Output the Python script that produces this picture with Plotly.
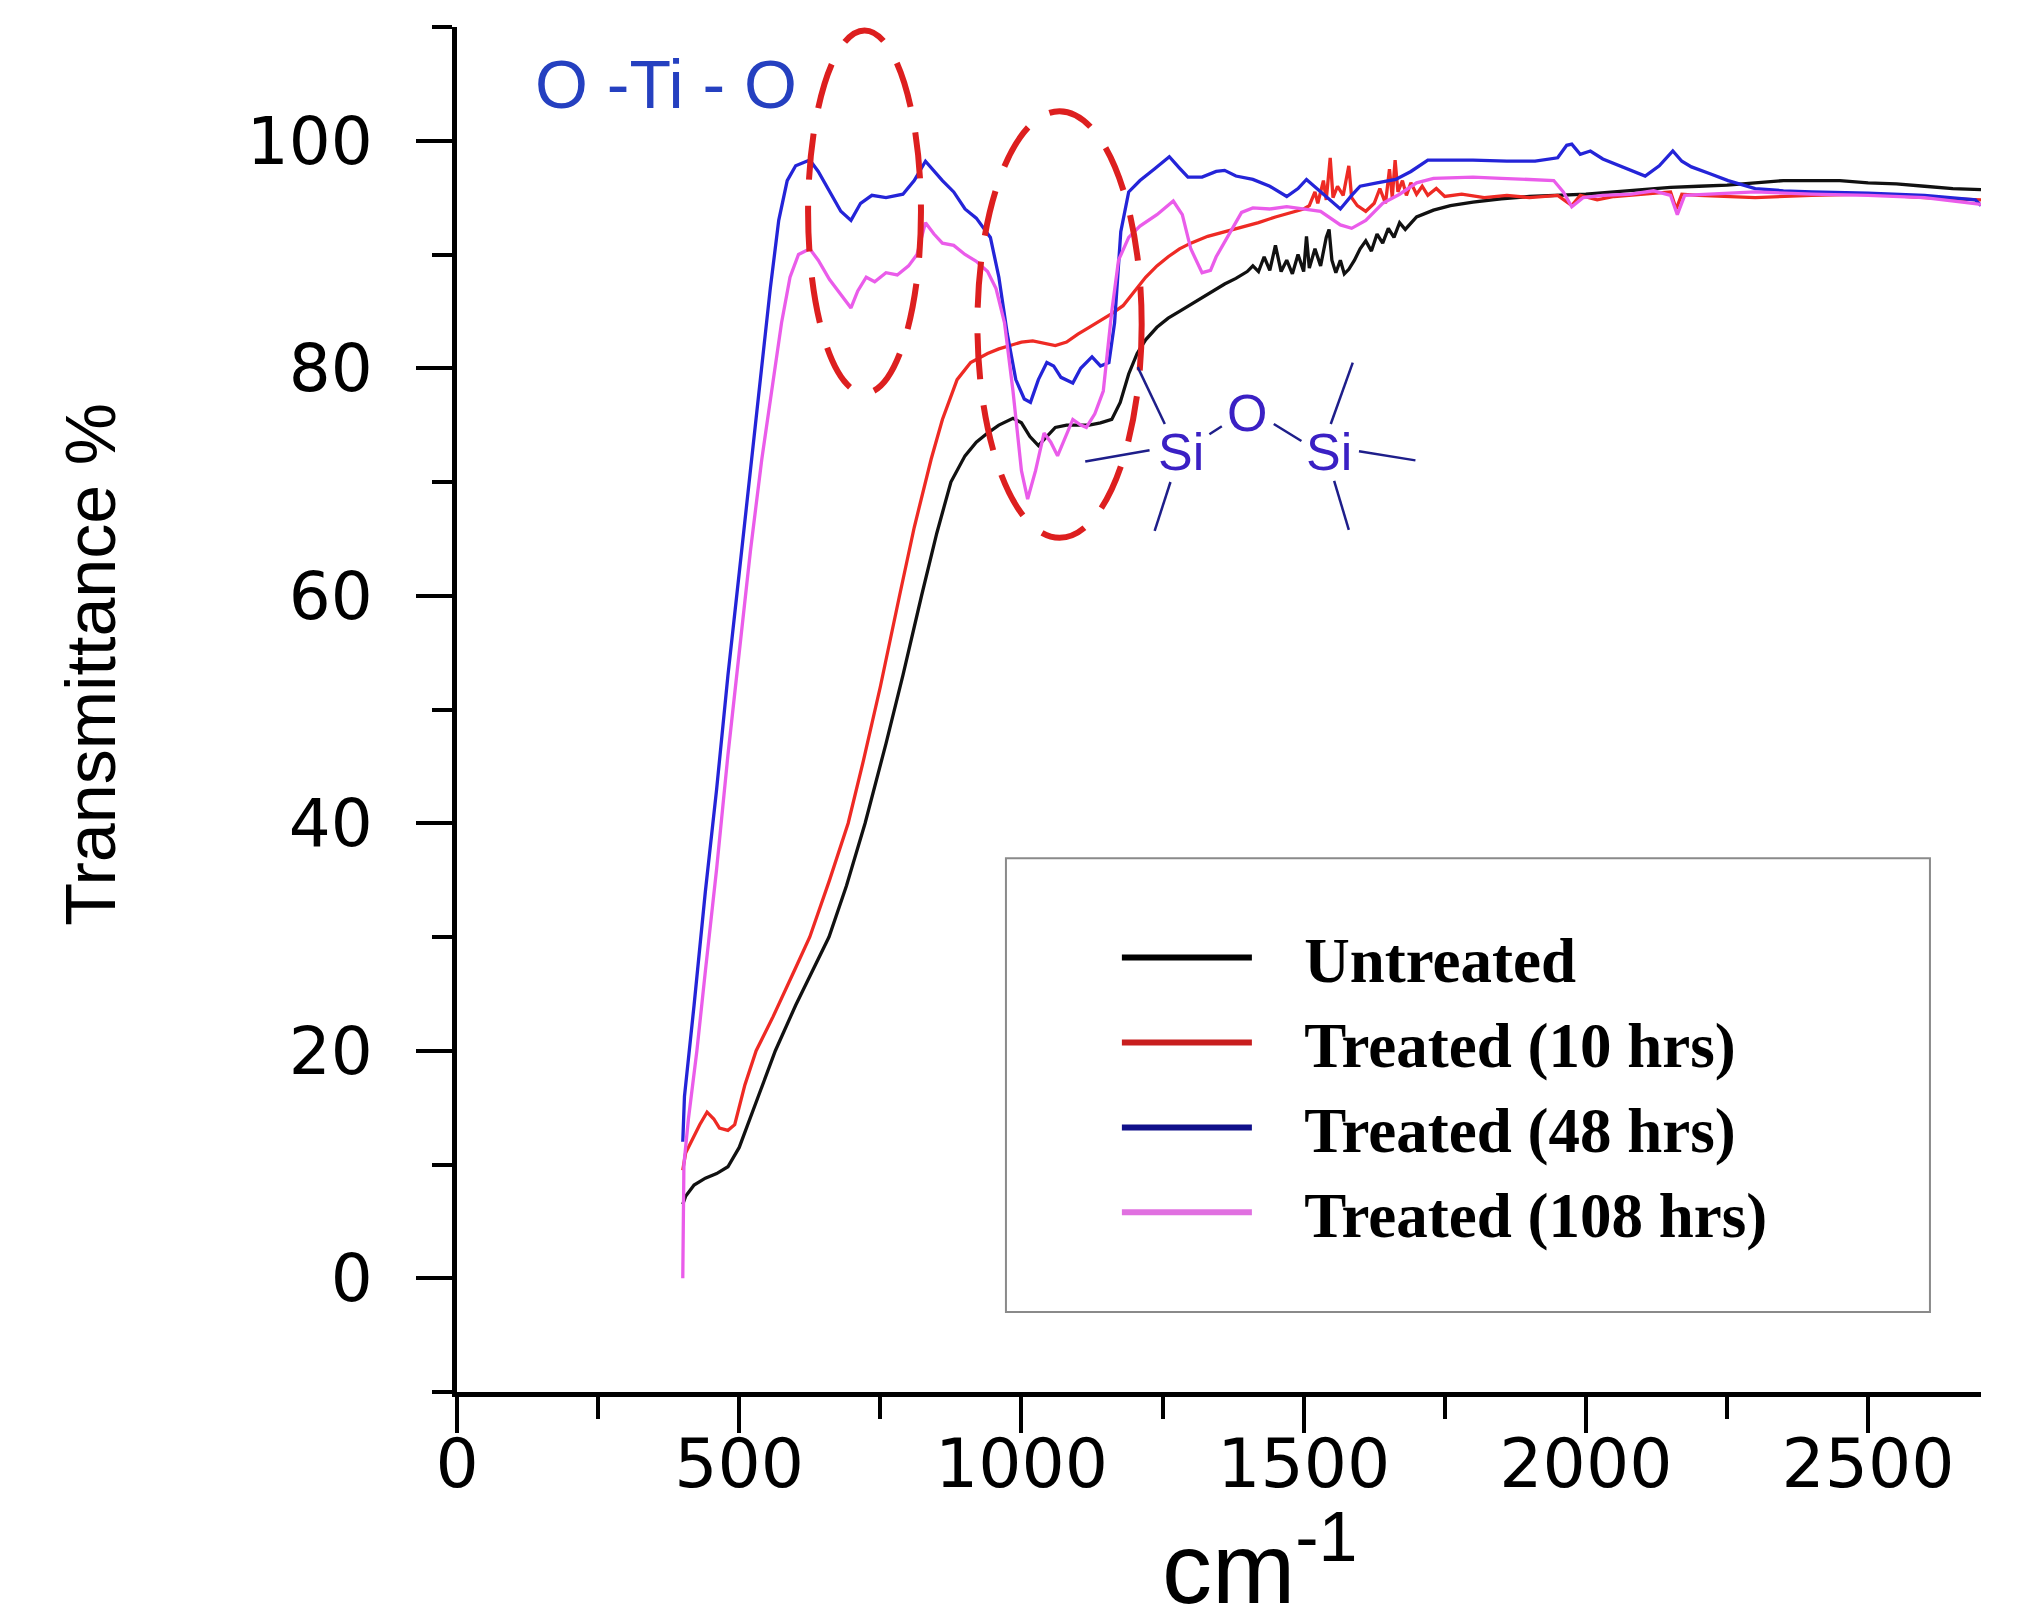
import plotly.graph_objs as go

# FTIR spectra, transmittance (%) vs wavenumber (cm-1)
untreated_x = [400, 405, 420, 440, 460, 480, 500, 530, 564, 600, 630, 659, 690, 723, 760, 790,
               823, 850, 875, 900, 920, 940, 960, 985, 1000,
               1015, 1030, 1045, 1060, 1080, 1100, 1120, 1140, 1160, 1175, 1190, 1205, 1220,
               1240, 1260, 1280, 1300, 1320, 1340, 1360, 1380, 1400, 1410, 1420, 1430, 1440,
               1450, 1460, 1470, 1480, 1490, 1500, 1505, 1510, 1520, 1530, 1540, 1545, 1550,
               1557, 1565, 1572, 1580, 1590, 1600, 1610, 1620, 1630, 1640, 1650, 1660, 1670,
               1680, 1700, 1730, 1760, 1800, 1850, 1900, 1950, 2000, 2050, 2100, 2150, 2200,
               2250, 2300, 2350, 2400, 2450, 2500, 2550, 2600, 2650, 2700]
untreated_y = [6.5, 7.2, 8.2, 8.8, 9.2, 9.8, 11.5, 15.5, 20, 24, 27, 30, 34.5, 40, 47, 53,
               60, 65.5, 70, 72.3, 73.5, 74.3, 75, 75.6, 75.2,
               74, 73.2, 74, 74.8, 75, 75, 75, 75.2, 75.5, 77, 79.5, 81.3, 82.5,
               83.6, 84.4, 85, 85.6, 86.2, 86.8, 87.4, 87.9, 88.5, 89, 88.5, 89.8, 88.6,
               90.8, 88.5, 89.5, 88.3, 90, 88.5, 91.6, 88.8, 90.5, 89, 91.5, 92.2, 89.5,
               88.4, 89.5, 88.3, 88.7, 89.5, 90.5, 91.2, 90.3, 91.8, 91, 92.3, 91.5, 92.8,
               92.2, 93.3, 93.9, 94.3, 94.6, 94.9, 95.1, 95.2, 95.3, 95.5, 95.7, 95.9, 96,
               96.1, 96.3, 96.5, 96.5, 96.5, 96.3, 96.2, 96, 95.8, 95.7]

treated10_x = [400, 405, 415, 430, 443, 455, 465, 480, 492, 500, 510, 530, 560, 600, 625, 660,
               693, 720, 750, 784, 810, 840, 860, 886, 910, 940, 960, 980, 1000, 1020, 1040,
               1060, 1080, 1100, 1120, 1140, 1160, 1180, 1200,
               1220, 1240, 1260, 1280, 1300, 1330, 1360, 1390, 1420, 1450, 1480, 1500, 1510,
               1520, 1525, 1535, 1540, 1547, 1552, 1560, 1570, 1580, 1585, 1595, 1610, 1625,
               1635, 1645, 1652, 1657, 1662, 1667, 1675, 1682, 1690, 1700, 1710, 1720, 1735,
               1750, 1780, 1820, 1860, 1900, 1950, 1975, 1990, 2020, 2050, 2100, 2150, 2160,
               2170, 2200, 2300, 2400, 2500, 2600, 2700]
treated10_y = [9.5, 11, 12, 13.5, 14.6, 14, 13.2, 13, 13.5, 15, 17, 20, 23, 27.3, 30, 35,
               40, 45.5, 52, 60, 66, 72, 75.5, 79, 80.5, 81.3, 81.7, 82, 82.3, 82.4, 82.2,
               82, 82.3, 83, 83.6, 84.2, 84.8, 85.5, 86.8,
               88, 89, 89.8, 90.5, 91, 91.6, 92, 92.4, 92.8, 93.3, 93.7, 94, 94.3,
               95.5, 94.5, 96.5, 94.8, 98.5, 95, 96, 95.2, 97.8, 95, 94.3, 93.8, 94.5,
               95.8, 94.5, 97.5, 95, 98.3, 95.5, 96.5, 95.2, 96.3, 95.3, 96, 95.2, 95.8,
               95.1, 95.3, 95, 95.2, 95, 95.2, 94.3, 95.2, 94.8, 95.1, 95.3, 95.5, 94,
               95.3, 95.2, 95, 95.2, 95.3, 95, 94.8]

treated48_x = [400, 403, 420, 440, 460, 480, 500, 520, 540, 555, 570, 585, 600, 625, 640, 660,
               680, 698, 715, 735, 760, 790, 810, 830, 845, 860, 880, 900, 920, 945, 960, 975,
               990, 1005, 1016, 1030, 1045, 1057, 1070, 1091, 1105, 1125, 1140, 1155, 1165, 1176,
               1190, 1210, 1235, 1262, 1280, 1295, 1320, 1345, 1360, 1380, 1410, 1440, 1470,
               1490, 1505, 1530, 1565, 1585, 1600, 1630, 1663, 1690, 1720, 1800, 1860, 1910,
               1950, 1966, 1975, 1990, 2008, 2030, 2056, 2080, 2105, 2130, 2154, 2170, 2187,
               2220, 2252, 2300, 2350, 2400, 2500, 2600, 2690, 2700]
treated48_y = [12, 16, 24, 34, 43, 53, 62, 71, 80, 87, 93, 96.5, 97.8, 98.3, 97.3, 95.5,
               93.8, 93, 94.5, 95.2, 95, 95.3, 96.5, 98.2, 97.3, 96.5, 95.5, 94, 93.2, 91.5, 88, 83,
               79, 77.3, 77, 79, 80.5, 80.2, 79.2, 78.7, 80, 81, 80.2, 80.5, 84, 92,
               95.5, 96.5, 97.5, 98.6, 97.6, 96.8, 96.8, 97.3, 97.4, 96.9, 96.6, 96, 95.1,
               95.8, 96.6, 95.5, 94, 95.2, 96, 96.3, 96.6, 97.3, 98.3, 98.3, 98.2, 98.2,
               98.5, 99.6, 99.7, 98.8, 99.1, 98.4, 97.9, 97.4, 96.9, 97.8, 99.1, 98.2, 97.7,
               97.1, 96.5, 95.8, 95.6, 95.5, 95.4, 95.2, 94.8, 94.3]

treated108_x = [400, 402, 410, 425, 440, 460, 480, 500, 520, 540, 560, 575, 590, 605, 625, 640,
                660, 680, 698, 710, 725, 740, 760, 780, 800, 815, 830, 845, 860, 880, 900, 920,
                940, 955, 970, 985, 1000, 1011, 1025, 1040, 1052, 1064, 1078, 1091, 1105, 1115,
                1130, 1145, 1160, 1172, 1190, 1210, 1240, 1269, 1285, 1300, 1320, 1335, 1345,
                1365, 1390, 1410, 1440, 1470, 1500, 1530, 1565, 1585, 1610, 1640, 1670, 1700,
                1730, 1800, 1850, 1900, 1943, 1960, 1975, 1995, 2030, 2080, 2120, 2150, 2162,
                2175, 2220, 2300, 2400, 2500, 2600, 2700]
treated108_y = [0, 10, 14, 20, 27, 36, 46, 55, 64, 72, 79, 84, 88, 90, 90.5, 89.5,
                87.8, 86.5, 85.3, 86.8, 88, 87.6, 88.4, 88.2, 89, 90, 92.8, 91.8, 91, 90.8, 90, 89.4,
                88.5, 87, 84, 78, 71, 68.5, 71, 74.3, 73.5, 72.3, 74, 75.5, 75, 74.8,
                76, 78, 85, 89.5, 91.5, 92.5, 93.5, 94.7, 93.5, 90.5, 88.4, 88.6, 89.8,
                91.5, 93.7, 94.1, 94, 94.2, 94, 93.8, 92.6, 92.3, 93, 94.5, 95.3, 96.3,
                96.7, 96.8, 96.7, 96.6, 96.5, 95.5, 94.2, 95, 95.2, 95.3, 95.6, 95.2, 93.5,
                95.2, 95.3, 95.5, 95.3, 95.2, 95, 94.4]

series_names = ['Untreated', 'Treated (10 hrs)', 'Treated (48 hrs)', 'Treated (108 hrs)']
line_colors = ['#111111', '#ee2a24', '#2424d8', '#ea5cea']
legend_colors = ['#000000', '#c81e1e', '#10108a', '#e070e0']

xs = [untreated_x, treated10_x, treated48_x, treated108_x]
ys = [untreated_y, treated10_y, treated48_y, treated108_y]

data = []
for x, y, color, name in zip(xs, ys, line_colors, series_names):
    data.append(go.Scatter(x=x, y=y, mode='lines', name=name,
                           line=dict(color=color, width=3.3),
                           legendgroup=name, showlegend=False))
# thicker swatches for the legend, like in the original figure
# (no-break spaces push the label away from its swatch)
for color, name in zip(legend_colors, series_names):
    data.append(go.Scatter(x=[None], y=[None], mode='lines', name='\u00a0\u00a0\u00a0' + name,
                           line=dict(color=color, width=6),
                           legendgroup=name, showlegend=True))

layout = go.Layout(
    width=2021,
    height=1623,
    plot_bgcolor='white',
    paper_bgcolor='white',
    margin=dict(l=449, r=48, t=19, b=239),
    xaxis=dict(range=[0, 2700], dtick=500, showline=True, linecolor='black', linewidth=5,
               showgrid=False, zeroline=False, ticks='outside', ticklen=36, tickwidth=4,
               tickcolor='black', ticklabelstandoff=-28, automargin=False,
               minor=dict(ticks='outside', ticklen=22, tickwidth=4, dtick=250, tickcolor='black'),
               tickfont=dict(family='DejaVu Sans', size=68, color='black')),
    yaxis=dict(range=[-10, 110], dtick=20, tick0=0, showline=True, linecolor='black', linewidth=5,
               showgrid=False, zeroline=False, ticks='outside', ticklen=36, tickwidth=4,
               tickcolor='black', ticklabelstandoff=30, automargin=False,
               minor=dict(ticks='outside', ticklen=20, tickwidth=4, dtick=10, tickcolor='black'),
               tickfont=dict(family='DejaVu Sans', size=66, color='black')),
    legend=dict(x=0.433, y=0.353, xanchor='left', yanchor='top', bgcolor='rgba(0,0,0,0)',
                borderwidth=0, itemwidth=130, tracegroupgap=0,
                font=dict(family='Liberation Serif, Times New Roman, serif', size=63,
                          color='black', weight='bold')),
    annotations=[
        # axis titles
        dict(text='cm<sup>-1</sup>', x=0.527, y=-0.124, xref='paper', yref='paper',
             xanchor='center', yanchor='middle', showarrow=False,
             font=dict(family='Liberation Sans', size=100, color='black')),
        dict(text='Transmittance %', x=-0.240, y=0.533, xref='paper', yref='paper',
             xanchor='center', yanchor='middle', textangle=-90, showarrow=False,
             font=dict(family='Liberation Sans', size=70, color='black')),
        # band labels
        dict(text='O -Ti - O', x=371, y=105, xref='x', yref='y', showarrow=False,
             font=dict(family='Liberation Sans', size=68, color='#2540c0')),
        dict(text='Si', x=1282, y=72.6, xref='x', yref='y', showarrow=False,
             font=dict(family='Liberation Sans', size=52, color='#3a20c4')),
        dict(text='O', x=1399, y=76.1, xref='x', yref='y', showarrow=False,
             font=dict(family='Liberation Sans', size=52, color='#3a20c4')),
        dict(text='Si', x=1545, y=72.6, xref='x', yref='y', showarrow=False,
             font=dict(family='Liberation Sans', size=52, color='#3a20c4')),
    ],
)

figure = go.Figure(data=data, layout=layout)

# red dashed ellipses around the O-Ti-O and Si-O-Si bands
ring = dict(color='#dd1f1f', width=6, dash='46px,26px')
figure.add_shape(type='circle', xref='x', yref='y', x0=622, x1=822, y0=77.8, y1=109.7, line=ring)
figure.add_shape(type='circle', xref='x', yref='y', x0=922, x1=1213, y0=65.1, y1=102.6, line=ring)

# bonds of the Si-O-Si sketch
bond = dict(color='#1e1e8a', width=2.5)
bonds = [(1206, 80.1, 1254, 75.1), (1113, 71.8, 1227, 72.8), (1264, 70.0, 1236, 65.7),
         (1333, 74.2, 1355, 74.9), (1447, 75.1, 1496, 73.6), (1587, 80.5, 1548, 75.1),
         (1598, 72.7, 1698, 71.9), (1554, 70.1, 1580, 65.8)]
for x0, y0, x1, y1 in bonds:
    figure.add_shape(type='line', xref='x', yref='y', x0=x0, y0=y0, x1=x1, y1=y1, line=bond)

# legend frame
figure.add_shape(type='rect', xref='paper', yref='paper', x0=0.3602, x1=0.9665,
                 y0=0.0586, y1=0.391, line=dict(color='#8a8a8a', width=2))

figure.write_html('out.html')
